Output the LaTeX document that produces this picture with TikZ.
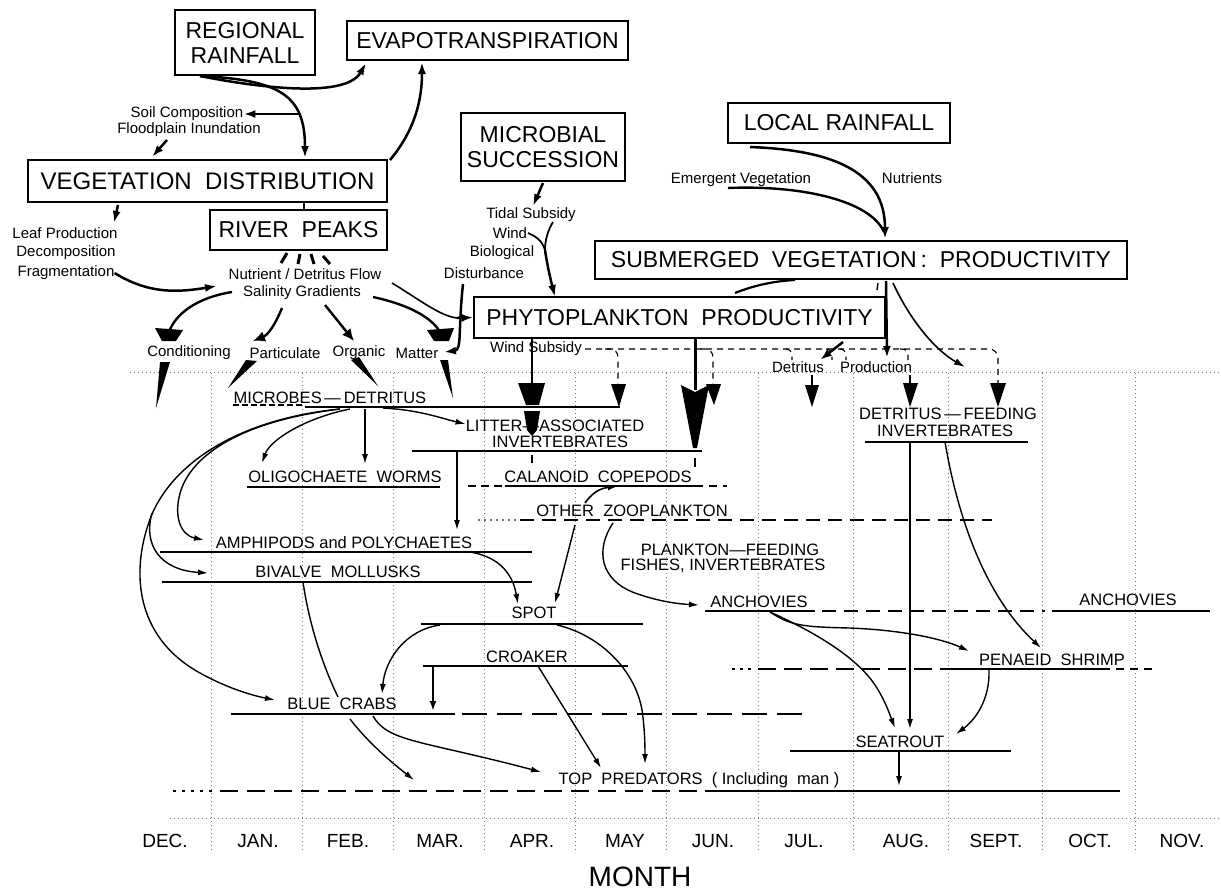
\documentclass[tikz,border=0pt]{standalone}
\usepackage{fontspec}
\setmainfont{Liberation Sans}
\usetikzlibrary{arrows.meta}
\begin{document}
\begin{tikzpicture}[x=1pt,y=-1pt,
  box/.style={draw, line width=1.1pt, inner sep=0pt, align=center, font=\fontsize{23}{25}\selectfont},
  small/.style={inner sep=0pt, font=\fontsize{15}{16}\selectfont},
  lab/.style={inner sep=0pt, align=center, font=\fontsize{16.5}{17}\selectfont},
  mon/.style={inner sep=0pt, font=\fontsize{19}{21}\selectfont},
  tarr/.style={line width=2.5pt, -{Latex[length=12pt,width=8pt]}},
  arr/.style={line width=1.4pt, -{Latex[length=10pt,width=6pt]}},
  bar/.style={line width=1.5pt},
  dbar/.style={line width=1.5pt, dash pattern=on 14pt off 8pt},
  grid/.style={black!55, line width=0.6pt, dash pattern=on 1pt off 3pt},
  wdash/.style={line width=1.1pt, dash pattern=on 6pt off 5pt}
]
\path[use as bounding box] (0,0) rectangle (1221,892);
% ---------- grid ----------
\foreach \gx in {211,302,393,484,575,666,758,853,948,1042,1135}
  \draw[grid] (\gx,373) -- (\gx,852);
\draw[grid] (130,372) -- (1221,372);
\draw[grid] (170,818) -- (1221,818);
% ---------- boxes ----------
\node[box, minimum width=140pt, minimum height=65pt] (rr) at (245,42.5) {REGIONAL\\RAINFALL};
\node[box, minimum width=281pt, minimum height=39pt] (ev) at (487.5,40.5) {EVAPOTRANSPIRATION};
\node[box, minimum width=359pt, minimum height=42pt, font=\fontsize{24}{26}\selectfont] (vd) at (207.5,181) {VEGETATION\ \ DISTRIBUTION};
\node[box, minimum width=177pt, minimum height=40pt] (rp) at (298.5,230) {RIVER\ \ PEAKS};
\node[box, minimum width=164pt, minimum height=68pt] (ms) at (543,147) {MICROBIAL\\SUCCESSION};
\node[box, minimum width=222pt, minimum height=40pt] (lr) at (839,123) {LOCAL RAINFALL};
\node[box, minimum width=532pt, minimum height=38pt] (sv) at (861,260) {SUBMERGED\ \ VEGETATION\,:\ \ PRODUCTIVITY};
\node[box, minimum width=411pt, minimum height=41pt] (pp) at (679.5,317.5) {PHYTOPLANKTON\ \ PRODUCTIVITY};
% ---------- small labels ----------
\node[small] (soil) at (187,114) {Soil Composition};
\node[small] (flood) at (189,130) {Floodplain Inundation};
\node[small] (leaf) at (65,233) {Leaf Production};
\node[small] (decomp) at (66,253) {Decomposition};
\node[small] (frag) at (66,273) {Fragmentation};
\node[small] (nut) at (305,274) {Nutrient / Detritus Flow};
\node[small] (sal) at (302,293) {Salinity Gradients};
\node[small] (cond) at (189,353) {Conditioning};
\node[small] (part) at (285,353) {Particulate};
\node[small] (org) at (359,353) {Organic};
\node[small] (mat) at (417,353) {Matter};
\node[small] (tidal) at (531,215) {Tidal Subsidy};
\node[small] (wind) at (510,233) {Wind};
\node[small] (bio) at (502,253) {Biological};
\node[small] (dist) at (484,273) {Disturbance};
\node[small] (emer) at (741,180) {Emergent Vegetation};
\node[small] (nutr) at (912,178) {Nutrients};
\node[small] (wsub) at (536,349) {Wind Subsidy};
\node[small] (detr) at (798,367) {Detritus};
\node[small] (prod) at (876,367) {Production};
% ---------- lower labels ----------
\node[lab] (md) at (330,398) {MICROBES\,---\,DETRITUS};
\node[lab] (lit) at (555,426) {LITTER---ASSOCIATED};
\node[lab] (lit2) at (560,442) {INVERTEBRATES};
\node[lab] (oli) at (345,477) {OLIGOCHAETE\ \ WORMS};
\node[lab] (cal) at (598,477) {CALANOID\ \ COPEPODS};
\node[lab] (oz) at (632,511) {OTHER\ \ ZOOPLANKTON};
\node[lab] (amp) at (344,543) {AMPHIPODS and POLYCHAETES};
\node[lab] (biv) at (338,572) {BIVALVE\ \ MOLLUSKS};
\node[lab] (pf) at (730,550) {PLANKTON---FEEDING};
\node[lab] (pf2) at (723,566) {FISHES, INVERTEBRATES};
\node[lab] (spot) at (534,613) {SPOT};
\node[lab] (cro) at (527,657) {CROAKER};
\node[lab] (bc) at (342,704) {BLUE\ \ CRABS};
\node[lab] (tp) at (699,780) {TOP\ \ PREDATORS\ \ ( Including\ \ man )};
\node[lab] (anc) at (759,602) {ANCHOVIES};
\node[lab] (anc2) at (1128,600) {ANCHOVIES};
\node[lab] (df) at (948,414) {DETRITUS\,---\,FEEDING};
\node[lab] (df2) at (945,431) {INVERTEBRATES};
\node[lab] (pen) at (1052,660) {PENAEID\ \ SHRIMP};
\node[lab] (sea) at (900,742) {SEATROUT};
% ---------- months ----------
\foreach \mx/\mn in {165/DEC., 258/JAN., 348/FEB., 440/MAR., 532/APR., 625/MAY, 713/JUN., 804/JUL., 906/AUG., 996/SEPT., 1090/OCT., 1182/NOV.}
  \node[mon] at (\mx,841) {\mn};
\node[inner sep=0pt, font=\fontsize{28}{30}\selectfont] (month) at (640,877) {MONTH};
% ---------- bars ----------
\draw[line width=1.3pt, dash pattern=on 6pt off 3pt] (233,405) -- (305,405);
\draw[bar] (305,407) -- (620,407);
\draw[bar] (412,451) -- (702,451);
\draw[bar] (247,487) -- (440,487);
\draw[dbar, dash pattern=on 8pt off 5pt] (468,486) -- (505,486);
\draw[bar] (505,486) -- (695,486);
\draw[dbar, dash pattern=on 8pt off 6pt] (695,486) -- (727,486);
\draw[grid, line width=1.4pt, dash pattern=on 2pt off 4pt] (478,520) -- (520,520);
\draw[dbar] (520,520) -- (992,520);
\draw[bar] (160,552) -- (532,552);
\draw[bar] (162,582) -- (532,582);
\draw[bar] (421,624) -- (643,624);
\draw[bar] (423,666) -- (628,666);
\draw[bar] (231,714) -- (455,714);
\draw[dbar, dash pattern=on 25pt off 10pt] (462,714) -- (803,714);
\draw[line width=1.4pt, dash pattern=on 3pt off 6pt] (173,791) -- (215,791);
\draw[dbar, dash pattern=on 18pt off 9pt] (220,791) -- (705,791);
\draw[bar] (705,791) -- (1120,791);
\draw[bar] (705,611) -- (815,611);
\draw[dbar] (822,611) -- (1045,611);
\draw[bar] (1052,611) -- (1210,611);
\draw[line width=1.4pt, dash pattern=on 3pt off 5pt] (732,669) -- (752,669);
\draw[dbar, dash pattern=on 18pt off 8pt] (758,669) -- (957,669);
\draw[bar] (957,669) -- (1110,669);
\draw[dbar, dash pattern=on 8pt off 6pt] (1116,669) -- (1157,669);
\draw[bar] (865,442) -- (1028,442);
\draw[bar] (790,751) -- (1011,751);
% ---------- top arrows ----------
\coordinate (rrs) at (200,76);
\draw[tarr] (rrs) .. controls (250,86) and (345,100) .. (366,63);
\draw[tarr] (rrs) .. controls (280,80) and (305,95) .. (305,158);
\draw[tarr] (301,114) -- (soil.east);
\draw[tarr] (167,140) -- (152,157);
\draw[tarr] (390,160) .. controls (415,130) and (422,100) .. (422,62);
\draw[tarr] (118,205) -- (114,223);
\draw[line width=1.4pt] (304,202) -- (304,210);
\draw[tarr] (frag.east) .. controls (150,295) and (180,292) .. (217,286);
\foreach \a/\b/\c/\d in {287/253/281/263, 300/254/298/264, 311/254/314/264, 323/256/330/264}
  \draw[line width=3pt] (\a,\b) -- (\c,\d);
% salinity spread
\draw[line width=2.4pt] (232,292) .. controls (195,298) and (175,315) .. (169,332);
\fill (155,328) -- (183,330) -- (176,341) -- (162,341) -- cycle;
\draw[line width=2.4pt, -{Latex[length=12pt,width=11pt]}] (282,308) .. controls (275,325) and (268,335) .. (253,341);
\draw[line width=2.4pt, -{Latex[length=12pt,width=11pt]}] (325,305) -- (354,341);
\draw[line width=2.4pt] (373,297) .. controls (410,305) and (432,318) .. (440,332);
\fill (427,330) -- (454,328) -- (449,341) -- (434,341) -- cycle;
\draw[line width=1.6pt] (392,283) .. controls (420,300) and (440,316) .. (457,318);
\draw[tarr] (457,318) -- (pp.west);
\draw[tarr] (463,284) .. controls (458,330) and (462,350) .. (444,352);
% wedges to microbes
\fill (160,362) -- (170,362) -- (156,408) -- cycle;
\fill (246,360) -- (257,361) -- (228,388) -- cycle;
\fill (351,360) -- (359,357) -- (378,386) -- cycle;
\fill (440,360) -- (448,360) -- (453,398) -- cycle;
% microbial / local rainfall
\draw[tarr] (543,183) -- (533,206);
\draw[line width=1.8pt] (528,233) .. controls (535,236) and (542,240) .. (545,250);
\draw[line width=1.8pt] (553,222) .. controls (548,230) and (545,240) .. (545,250);
\draw[tarr] (545,250) .. controls (548,270) and (552,285) .. (555,297);
\draw[tarr] (750,147) .. controls (830,150) and (885,170) .. (885,239);
\draw[line width=2.4pt] (728,188) .. controls (800,185) and (870,200) .. (884,232);
\draw[line width=2.2pt] (735,293) .. controls (755,285) and (775,281) .. (795,280);
\draw[tarr] (886,281) -- (887,358);
\draw[line width=1.4pt] (878,283) -- (877,290);
\draw[line width=1.6pt, -{Latex[length=11pt,width=7pt]}] (893,283) .. controls (910,320) and (935,350) .. (965,367);
\draw[tarr] (843,342) -- (820,360);
% wind subsidy dashed network
\draw[wdash, rounded corners=9pt] (585,349) -- (998,349) -- (998,385);
\draw[wdash, rounded corners=8pt] (605,349) -| (618,385);
\draw[wdash, rounded corners=8pt] (700,349) -| (713,385);
\draw[wdash, rounded corners=6pt] (786,349) -| (792,360);
\draw[wdash, rounded corners=6pt] (826,349) -| (832,360);
\draw[wdash, rounded corners=6pt] (840,349) -| (846,360);
\draw[wdash, rounded corners=6pt] (900,349) -| (908,360);
\draw[line width=1.1pt] (812,375) -- (812,385);
\draw[line width=1.1pt] (910,375) -- (910,385);
\fill (611,384) -- (626,384) -- (619,407) -- cycle;
\fill (706,384) -- (721,384) -- (714,405) -- cycle;
\fill (805,385) -- (819,385) -- (812,407) -- cycle;
\fill (903,383) -- (918,383) -- (910,407) -- cycle;
\fill (990,383) -- (1006,383) -- (998,407) -- cycle;
% big phytoplankton arrows
\draw[line width=2.6pt] (532,339) -- (532,386);
\fill (518,383) -- (545,383) -- (539,405) -- (526,405) -- cycle;
\fill (524,411) -- (540,411) -- (537,430) -- (532,436) -- (527,430) -- cycle;
\draw[line width=3pt] (695,339) -- (695,390);
\fill (681,385) -- (695,392) -- (709,385) -- (697,448) -- (693,448) -- cycle;
\draw[line width=2.5pt] (532,455) -- (532,463);
\draw[line width=2.5pt] (695,458) -- (695,467);
% ---------- lower food web ----------
\draw[arr] (350,409) .. controls (305,418) and (270,440) .. (262,463);
\draw[arr] (365,409) -- (365,464);
\draw[arr] (383,408) .. controls (420,410) and (440,418) .. (lit.west |- 0,424);
\draw[arr] (340,409) .. controls (250,420) and (195,450) .. (181,490) .. controls (173,515) and (180,535) .. (204,540);
\draw[arr] (340,409) .. controls (230,420) and (165,470) .. (148,525) .. controls (130,580) and (140,640) .. (200,673) .. controls (225,687) and (250,695) .. (275,700);
\draw[arr] (152,513) .. controls (143,545) and (160,570) .. (208,573);
\draw[arr] (457,451) -- (457,530);
\draw[arr] (470,552) .. controls (495,556) and (512,570) .. (518,604);
\draw[arr] (575,525) -- (555,603);
\draw[line width=1.6pt, -{Latex[length=8pt,width=6pt]}] (585,503) .. controls (592,493) and (600,488) .. (616,487);
\draw[arr] (613,523) .. controls (595,550) and (600,580) .. (635,593) .. controls (660,602) and (680,604) .. (699,605);
\draw[line width=1.4pt] (303,582) .. controls (310,630) and (325,670) .. (338,697);
\draw[arr] (350,719) .. controls (370,745) and (395,765) .. (414,780);
\draw[arr] (373,716) .. controls (388,742) and (420,740) .. (541,772);
\draw[arr] (440,625) .. controls (405,630) and (385,660) .. (382,694);
\draw[arr] (557,625) .. controls (600,635) and (635,670) .. (642,710) .. controls (645,730) and (645,750) .. (645,764);
\draw[line width=2.2pt, -{Latex[length=10pt,width=7pt]}] (433,666) -- (433,711);
\draw[arr] (538,666) -- (601,768);
\draw[arr] (770,612) .. controls (810,630) and (855,655) .. (875,685) .. controls (885,700) and (890,715) .. (895,728);
\draw[arr] (770,612) .. controls (790,625) and (800,627) .. (850,628) .. controls (900,630) and (940,638) .. (969,651);
\draw[arr] (910,442) -- (910,729);
\draw[arr] (945,442) .. controls (960,530) and (990,600) .. (1041,648);
\draw[arr] (989,670) .. controls (990,700) and (975,720) .. (956,734);
\draw[arr] (899,752) -- (899,786);
\end{tikzpicture}
\end{document}
